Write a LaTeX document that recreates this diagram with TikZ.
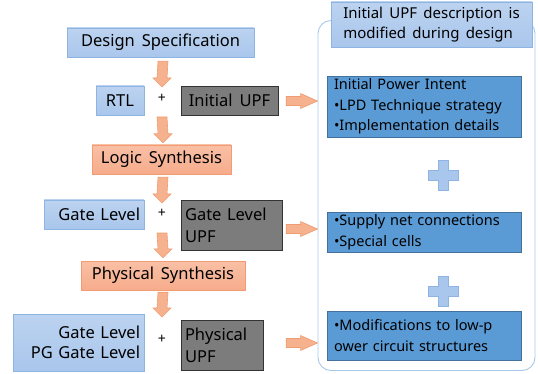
\documentclass[tikz,border=0pt]{standalone}
\usepackage{fontspec}
\setmainfont{Noto Sans}[WordSpace=1.6]
\usetikzlibrary{calc}

\definecolor{boxblue}{HTML}{A9C6EC}
\definecolor{boxbluetop}{HTML}{BCD3F0}
\definecolor{lineblue}{HTML}{8DB4E2}
\definecolor{deepblue}{HTML}{5B9BD5}
\definecolor{deepline}{HTML}{41719C}
\definecolor{boxorange}{HTML}{F6AC8B}
\definecolor{boxorangetop}{HTML}{F9C0A6}
\definecolor{lineorange}{HTML}{F39B72}
\definecolor{arwfill}{HTML}{F6B28F}
\definecolor{arwline}{HTML}{F09C70}
\definecolor{upfgray}{HTML}{7C7C7C}
\definecolor{frameblue}{HTML}{A8C8EA}

\tikzset{
  inbox/.style={draw=lineblue, top color=boxbluetop, bottom color=boxblue, minimum height=29pt, inner sep=0pt},
  upfbox/.style={draw=black!80, fill=upfgray, text=black, minimum height=29pt, inner sep=0pt},
  synbox/.style={draw=lineorange, top color=boxorangetop, bottom color=boxorange, minimum height=29pt, inner sep=0pt},
  infobox/.style={draw=deepline, fill=deepblue, inner sep=0pt, minimum width=194pt, text width=180pt, align=left,
    font=\fontsize{14.5}{20.5}\selectfont},
  plusnode/.style={inner sep=0pt, font=\fontsize{14}{14}\selectfont\bfseries},
  blkdown/.style={draw=arwline, fill=arwfill, line width=0.6pt, to path={
    ($(\tikztostart)+(-5,0)$) -- ($(\tikztotarget)+(-5,-9)$) -- ($(\tikztotarget)+(-9,-9)$)
    -- (\tikztotarget) -- ($(\tikztotarget)+(9,-9)$) -- ($(\tikztotarget)+(5,-9)$)
    -- ($(\tikztostart)+(5,0)$) -- cycle}},
  blkright/.style={draw=arwline, fill=arwfill, line width=0.6pt, to path={
    ($(\tikztostart)+(0,-4.5)$) -- ($(\tikztotarget)+(-17,-4.5)$) -- ($(\tikztotarget)+(-17,-7.5)$)
    -- (\tikztotarget) -- ($(\tikztotarget)+(-17,7.5)$) -- ($(\tikztotarget)+(-17,4.5)$)
    -- ($(\tikztostart)+(0,4.5)$) -- cycle}},
  plusmark/.style={draw=lineblue, fill=boxblue, line width=0.6pt}
}

\begin{document}
\begin{tikzpicture}[x=1pt, y=-1pt, font=\fontsize{16.5}{22}\selectfont]
  \useasboundingbox (0,0) rectangle (538,374);

  % design flow
  \node[inbox, minimum width=187pt] (spec) at (160.5,42.5) {Design Specification};
  \node[inbox, minimum width=48pt] (rtl) at (120,100.5) {RTL};
  \node[plusnode] (plus1) at (162,98) {+};
  \node[upfbox, minimum width=97pt] (iupf) at (229.5,100.5) {Initial UPF};
  \node[synbox, minimum width=139pt] (logic) at (161.5,159.5) {Logic Synthesis};
  \node[inbox, minimum width=100pt, text width=92pt, align=right] (gate) at (94,214.5) {Gate Level};
  \node[plusnode] (plus2) at (162,213) {+};
  \node[upfbox, minimum width=101pt, minimum height=50pt, text width=93pt, align=left] (gupf) at (231.5,225.5) {Gate Level\\UPF};
  \node[synbox, minimum width=164pt] (phys) at (163,275.5) {Physical Synthesis};
  \node[inbox, minimum width=131pt, minimum height=57pt, text width=123pt, align=right,
        font=\fontsize{16.5}{20}\selectfont] (pg) at (78.5,342.5) {Gate Level\\PG Gate Level};
  \node[plusnode] (plus3) at (162,339) {+};
  \node[upfbox, minimum width=82pt, minimum height=50pt, text width=74pt, align=left] (pupf) at (222,345.5) {Physical\\UPF};

  % flow arrows
  \draw[blkdown] ($(spec.south)+(2.5,4)$) to ($(plus1)+(0,-11)$);
  \draw[blkdown] ($(plus1)+(0,19)$) to ($(logic.north)+(1.5,-2)$);
  \draw[blkdown] ($(logic.south)+(1.5,3)$) to ($(plus2)+(0,-10)$);
  \draw[blkdown] ($(plus2)+(0,20)$) to ($(phys.north)+(0,-3)$);
  \draw[blkdown] ($(phys.south)+(0,2)$) to ($(plus3)+(0,-22)$);

  % power intent side
  \node[draw=frameblue, line width=0.9pt, rounded corners=13pt, minimum width=217pt, minimum height=350pt] (frame) at (426.5,195.5) {};
  \node[inbox, minimum width=201pt, minimum height=45pt, align=left, font=\fontsize{15}{20}\selectfont] (note) at (431.5,24.5)
    {Initial UPF description is\\modified during design};
  \node[infobox, minimum height=61pt] (intent) at (424,106.5)
    {Initial Power Intent\\•LPD Technique strategy\\•Implementation details};
  \node[infobox, minimum height=40pt] (supply) at (424,232)
    {•Supply net connections\\•Special cells};
  \node[infobox, minimum height=49pt] (modif) at (424,335.5)
    {•Modifications to low-p\\ower circuit structures};

  \draw[plusmark] ($(intent.south)+(19,23)$) ++(-5,0) -- ++(10,0) -- ++(0,10) -- ++(10,0) -- ++(0,10) -- ++(-10,0)
    -- ++(0,10) -- ++(-10,0) -- ++(0,-10) -- ++(-10,0) -- ++(0,-10) -- ++(10,0) -- cycle;
  \draw[plusmark] ($(supply.south)+(19,24)$) ++(-5,0) -- ++(10,0) -- ++(0,10) -- ++(10,0) -- ++(0,10) -- ++(-10,0)
    -- ++(0,10) -- ++(-10,0) -- ++(0,-10) -- ++(-10,0) -- ++(0,-10) -- ++(10,0) -- cycle;

  \draw[blkright] ($(iupf.east)+(8,0.5)$) to ($(frame.west|-iupf.east)+(0,0.5)$);
  \draw[blkright] ($(gupf.east)+(4,3.5)$) to ($(frame.west|-gupf.east)+(0,3.5)$);
  \draw[blkright] ($(pupf.east)+(23,-2.5)$) to ($(frame.west|-pupf.east)+(0,-2.5)$);
\end{tikzpicture}
\end{document}
